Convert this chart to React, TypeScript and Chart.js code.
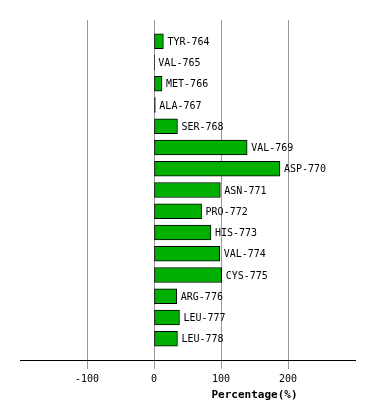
import React, { useEffect, useRef } from "react";
import { Chart, registerables } from "chart.js";

Chart.register(...registerables);

const residues = [
  "TYR-764", "VAL-765", "MET-766", "ALA-767", "SER-768", "VAL-769", "ASP-770",
  "ASN-771", "PRO-772", "HIS-773", "VAL-774", "CYS-775", "ARG-776", "LEU-777", "LEU-778",
];
const percentages = [14, 0.5, 12, 2, 35, 139, 188, 99, 71, 85, 98, 101, 34, 38, 35];
const xTickValues = [-100, 0, 100, 200];
const xMin = -200;
const xMax = 300;
const axisTitle = "Percentage(%)";

export default function App() {
  const ref = useRef<HTMLCanvasElement | null>(null);
  useEffect(() => {
    if (!ref.current) return;
    const labels = ["", ...residues, ""];
    const data = [null, ...percentages, null];
    const labelPlugin = {
      id: "barLabels",
      afterDatasetsDraw(chart: any) {
        const ctx = chart.ctx;
        const meta = chart.getDatasetMeta(0);
        ctx.save();
        ctx.font = "10px 'DejaVu Sans Mono'";
        ctx.fillStyle = "#000";
        ctx.textAlign = "left";
        ctx.textBaseline = "middle";
        meta.data.forEach((bar: any, i: number) => {
          const lbl = labels[i];
          if (!lbl) return;
          ctx.fillText(lbl, bar.x + 4, bar.y + 1);
        });
        ctx.restore();
      },
      afterDraw(chart: any) {
        const ctx = chart.ctx;
        const xs = chart.scales.x;
        const axisY = chart.chartArea.bottom;
        ctx.save();
        ctx.fillStyle = "#999";
        xTickValues.forEach((v) => {
          const px = Math.round(xs.getPixelForValue(v));
          ctx.fillRect(px, axisY + 1, 1, 8);
        });
        ctx.font = "bold 11px 'DejaVu Sans Mono'";
        ctx.fillStyle = "#000";
        ctx.textAlign = "center";
        ctx.textBaseline = "middle";
        ctx.fillText(axisTitle, xs.getPixelForValue(150), 395);
        ctx.restore();
      },
    };
    const chart = new Chart(ref.current, {
      type: "bar",
      data: {
        labels,
        datasets: [
          {
            data: data as any,
            backgroundColor: (c: any) => (c.raw !== null && Math.abs(c.raw) < 3 ? "#000" : "#00b000"),
            borderColor: "#000",
            borderWidth: 1,
            borderSkipped: false,
            barThickness: 15,
          },
        ],
      },
      options: {
        indexAxis: "y",
        animation: false,
        responsive: false,
        maintainAspectRatio: false,
        layout: { padding: { left: 20, right: 19, top: 20, bottom: 30 } },
        plugins: { legend: { display: false }, tooltip: { enabled: false } },
        scales: {
          y: {
            display: false,
            offset: false,
          },
          x: {
            min: xMin,
            max: xMax,
            afterBuildTicks(scale: any) {
              scale.ticks = [xMin, ...xTickValues, xMax].map((v) => ({ value: v }));
            },
            ticks: {
              font: { family: "'DejaVu Sans Mono'", size: 10 },
              color: "#000",
              padding: 5,
              maxRotation: 0,
              autoSkip: false,
              callback: (v: any) => (xTickValues.includes(Number(v)) ? String(v) : ""),
            },
            grid: {
              color: (c: any) =>
                c.tick && xTickValues.includes(c.tick.value) ? "#999" : "rgba(0,0,0,0)",
              tickColor: "rgba(0,0,0,0)",
              lineWidth: 1,
              tickWidth: 1,
              tickLength: 8,
              drawTicks: true,
            },
            border: { display: true, color: "#000", width: 1 },
          },
        },
      },
      plugins: [labelPlugin],
    });
    return () => chart.destroy();
  }, []);
  return (
    <div style={{ position: "fixed", left: 0, top: 0, width: 374, height: 420, background: "#fff" }}>
      <canvas ref={ref} width={374} height={420} style={{ width: 374, height: 420 }} />
    </div>
  );
}
